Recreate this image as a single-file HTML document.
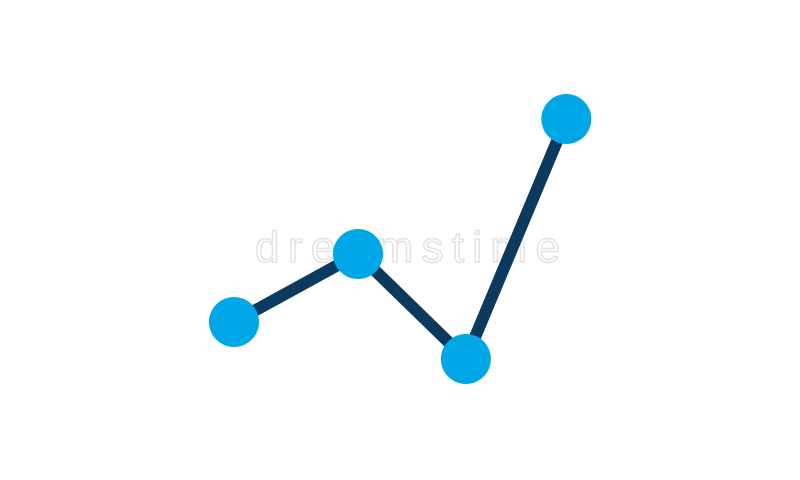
<!DOCTYPE html>
<html>
<head>
<meta charset="utf-8">
<style>
  html,body{margin:0;padding:0;background:#fff;}
  svg{display:block;}
</style>
</head>
<body>
<svg id="chart" width="800" height="480" viewBox="0 0 800 480" xmlns="http://www.w3.org/2000/svg">
  <rect x="0" y="0" width="800" height="480" fill="#ffffff"/>
  <text x="255" y="262" textLength="305" lengthAdjust="spacing" font-family="Liberation Sans, sans-serif" font-size="44" fill="none" stroke="#e4e4e4" stroke-width="1.6">dreamstime</text>
  <g id="series"></g>
</svg>
<script>
const categories = ["p1", "p2", "p3", "p4"];
const xValues = [0, 1, 1.87, 2.68];
const yValues = [1.16, 2.52, 0.42, 5.22];

function xScale(v){ return 234 + v * 124; }
function yScale(v){ return 380 - v * 50; }

const NS = "http://www.w3.org/2000/svg";
const g = document.getElementById("series");
const pts = xValues.map((x, i) => [xScale(x), yScale(yValues[i])]);

const line = document.createElementNS(NS, "polyline");


line.setAttribute("points", pts.map(p => p.join(",")).join(" "));
line.setAttribute("fill", "none");
line.setAttribute("stroke", "#0b3a5e");
line.setAttribute("stroke-width", "12");
line.setAttribute("stroke-linejoin", "round");
g.appendChild(line);

pts.forEach((p, i) => {
  const c = document.createElementNS(NS, "circle");
  
  
  c.setAttribute("cx", p[0]);
  c.setAttribute("cy", p[1]);
  c.setAttribute("r", "25");
  c.setAttribute("fill", "#00a7e7");
  g.appendChild(c);
});
</script>
</body>
</html>
